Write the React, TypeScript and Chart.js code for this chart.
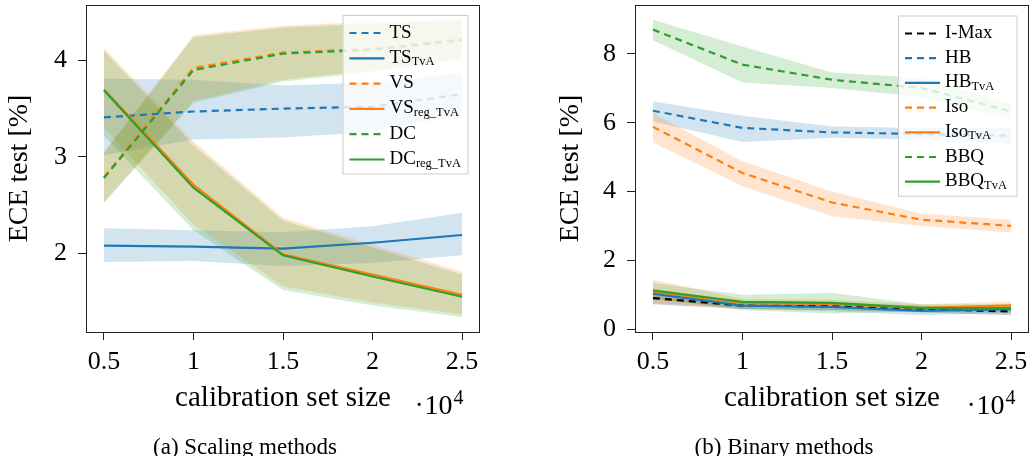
import React, { useEffect, useRef } from "react";
import { Chart, registerables } from "chart.js";

Chart.register(...registerables);

const FONT = '"Liberation Serif", "Times New Roman", serif';

// ---------- shared axis data ----------
const CAL_SIZES = [0.5, 1, 1.5, 2, 2.5];
const X_TICK_VALUES = [0.5, 1, 1.5, 2, 2.5];
const X_TICK_LABELS = ["0.5", "1", "1.5", "2", "2.5"];
const Y_TICKS_A = [2, 3, 4];
const Y_TICKS_B = [0, 2, 4, 6, 8];

// ---------- (a) Scaling methods ----------
const TS_MEAN = [3.41, 3.47, 3.5, 3.52, 3.65];
const TS_LO = [3.02, 3.18, 3.2, 3.26, 3.44];
const TS_HI = [3.81, 3.8, 3.74, 3.77, 3.87];

const TS_TVA_MEAN = [2.08, 2.07, 2.05, 2.11, 2.19];
const TS_TVA_LO = [1.91, 1.92, 1.87, 1.9, 1.98];
const TS_TVA_HI = [2.26, 2.24, 2.22, 2.28, 2.42];

const VS_MEAN = [2.79, 3.92, 4.08, 4.12, 4.22];
const VS_LO = [2.53, 3.58, 3.8, 3.9, 4.03];
const VS_HI = [3.05, 4.26, 4.36, 4.4, 4.43];

const VS_REG_TVA_MEAN = [3.7, 2.71, 1.99, 1.78, 1.57];
const VS_REG_TVA_LO = [3.3, 2.3, 1.66, 1.49, 1.37];
const VS_REG_TVA_HI = [4.13, 3.16, 2.37, 2.09, 1.81];

const DC_MEAN = [2.78, 3.9, 4.07, 4.11, 4.21];
const DC_LO = [2.52, 3.56, 3.78, 3.88, 4.01];
const DC_HI = [3.04, 4.24, 4.34, 4.38, 4.41];

const DC_REG_TVA_MEAN = [3.69, 2.68, 1.98, 1.76, 1.55];
const DC_REG_TVA_LO = [3.22, 2.24, 1.62, 1.46, 1.34];
const DC_REG_TVA_HI = [4.1, 3.12, 2.34, 2.06, 1.78];

// ---------- (b) Binary methods ----------
const IMAX_MEAN = [0.9, 0.68, 0.66, 0.58, 0.51];
const IMAX_LO = [0.72, 0.58, 0.55, 0.48, 0.4];
const IMAX_HI = [1.1, 0.8, 0.78, 0.68, 0.62];

const HB_MEAN = [6.35, 5.85, 5.72, 5.67, 5.62];
const HB_LO = [6.04, 5.44, 5.56, 5.51, 5.38];
const HB_HI = [6.62, 6.2, 5.89, 5.85, 5.85];

const HB_TVA_MEAN = [1.03, 0.68, 0.64, 0.53, 0.58];
const HB_TVA_LO = [0.88, 0.58, 0.52, 0.4, 0.47];
const HB_TVA_HI = [1.18, 0.78, 0.76, 0.66, 0.7];

const ISO_MEAN = [5.88, 4.54, 3.68, 3.18, 3.0];
const ISO_LO = [5.43, 4.15, 3.28, 3.0, 2.81];
const ISO_HI = [6.28, 4.88, 4.0, 3.35, 3.18];

const ISO_TVA_MEAN = [1.09, 0.76, 0.73, 0.61, 0.69];
const ISO_TVA_LO = [0.75, 0.64, 0.62, 0.52, 0.58];
const ISO_TVA_HI = [1.43, 0.88, 0.85, 0.72, 0.8];

const BBQ_MEAN = [8.71, 7.69, 7.25, 7.01, 6.33];
const BBQ_LO = [8.4, 7.17, 7.01, 6.75, 6.11];
const BBQ_HI = [9.0, 8.22, 7.46, 7.3, 6.55];

const BBQ_TVA_MEAN = [1.12, 0.79, 0.76, 0.61, 0.61];
const BBQ_TVA_LO = [0.9, 0.55, 0.45, 0.52, 0.5];
const BBQ_TVA_HI = [1.34, 1.0, 1.05, 0.72, 0.72];

// ---------- styles ----------
const BLUE = "#1f77b4";
const ORANGE = "#ff7f0e";
const GREEN = "#2ca02c";
const BLACK = "#000000";

type Part = { t: string; sub?: boolean };
type Series = {
  parts: Part[];
  mean: number[];
  lo: number[];
  hi: number[];
  color: string;
  dashed: boolean;
};

const SERIES_A: Series[] = [
  { parts: [{ t: "TS" }], mean: TS_MEAN, lo: TS_LO, hi: TS_HI, color: BLUE, dashed: true },
  { parts: [{ t: "TS" }, { t: "TvA", sub: true }], mean: TS_TVA_MEAN, lo: TS_TVA_LO, hi: TS_TVA_HI, color: BLUE, dashed: false },
  { parts: [{ t: "VS" }], mean: VS_MEAN, lo: VS_LO, hi: VS_HI, color: ORANGE, dashed: true },
  { parts: [{ t: "VS" }, { t: "reg_TvA", sub: true }], mean: VS_REG_TVA_MEAN, lo: VS_REG_TVA_LO, hi: VS_REG_TVA_HI, color: ORANGE, dashed: false },
  { parts: [{ t: "DC" }], mean: DC_MEAN, lo: DC_LO, hi: DC_HI, color: GREEN, dashed: true },
  { parts: [{ t: "DC" }, { t: "reg_TvA", sub: true }], mean: DC_REG_TVA_MEAN, lo: DC_REG_TVA_LO, hi: DC_REG_TVA_HI, color: GREEN, dashed: false },
];

const SERIES_B: Series[] = [
  { parts: [{ t: "I-Max" }], mean: IMAX_MEAN, lo: IMAX_LO, hi: IMAX_HI, color: BLACK, dashed: true },
  { parts: [{ t: "HB" }], mean: HB_MEAN, lo: HB_LO, hi: HB_HI, color: BLUE, dashed: true },
  { parts: [{ t: "HB" }, { t: "TvA", sub: true }], mean: HB_TVA_MEAN, lo: HB_TVA_LO, hi: HB_TVA_HI, color: BLUE, dashed: false },
  { parts: [{ t: "Iso" }], mean: ISO_MEAN, lo: ISO_LO, hi: ISO_HI, color: ORANGE, dashed: true },
  { parts: [{ t: "Iso" }, { t: "TvA", sub: true }], mean: ISO_TVA_MEAN, lo: ISO_TVA_LO, hi: ISO_TVA_HI, color: ORANGE, dashed: false },
  { parts: [{ t: "BBQ" }], mean: BBQ_MEAN, lo: BBQ_LO, hi: BBQ_HI, color: GREEN, dashed: true },
  { parts: [{ t: "BBQ" }, { t: "TvA", sub: true }], mean: BBQ_TVA_MEAN, lo: BBQ_TVA_LO, hi: BBQ_TVA_HI, color: GREEN, dashed: false },
];

function rgba(hex: string, a: number) {
  const n = parseInt(hex.slice(1), 16);
  return `rgba(${(n >> 16) & 255},${(n >> 8) & 255},${n & 255},${a})`;
}

const pts = (arr: number[]) => CAL_SIZES.map((x, j) => ({ x, y: arr[j] }));

const MAIN_FONT = `19px ${FONT}`;
const SUB_FONT = `12.5px ${FONT}`;

const figurePlugin = {
  id: "figureText",
  afterDraw(chart: any, _args: any, opts: any) {
    const ctx: CanvasRenderingContext2D = chart.ctx;
    const ca = chart.chartArea;
    ctx.save();
    // frame
    ctx.setLineDash([]);
    ctx.strokeStyle = "#222";
    ctx.lineWidth = 1;
    ctx.strokeRect(ca.left + 0.5, ca.top + 0.5, ca.right - ca.left - 1, ca.bottom - ca.top);

    // legend
    const items: Series[] = opts.series;
    const rowH: number = opts.rowH;
    const boxW: number = opts.boxW;
    const boxH = 32 + (items.length - 1) * rowH;
    const bx = ca.right - opts.rightInset - boxW;
    const by = ca.top + opts.topInset;
    ctx.fillStyle = "rgba(255,255,255,0.8)";
    ctx.fillRect(bx, by, boxW, boxH);
    ctx.strokeStyle = "#cccccc";
    ctx.lineWidth = 1;
    ctx.strokeRect(bx + 0.5, by + 0.5, boxW, boxH);
    items.forEach((s, i) => {
      const cy = by + 16 + i * rowH;
      ctx.beginPath();
      ctx.setLineDash(s.dashed ? [7, 5] : []);
      ctx.strokeStyle = s.color;
      ctx.lineWidth = 2.2;
      ctx.moveTo(bx + 7, cy + 2);
      ctx.lineTo(bx + 42, cy + 2);
      ctx.stroke();
      ctx.setLineDash([]);
      ctx.fillStyle = "#000";
      ctx.textBaseline = "alphabetic";
      ctx.textAlign = "left";
      let x = bx + 47;
      const base = cy + 6.5;
      for (const p of s.parts) {
        ctx.font = p.sub ? SUB_FONT : MAIN_FONT;
        ctx.fillText(p.t, x, p.sub ? base + 2.5 : base);
        x += ctx.measureText(p.t).width;
      }
    });

    // scale factor ·10^4
    ctx.fillStyle = "#000";
    ctx.textAlign = "left";
    ctx.textBaseline = "alphabetic";
    ctx.font = `28px ${FONT}`;
    const sx = opts.sciX;
    ctx.fillText("\u00b7", sx, 414);
    ctx.fillText("10", sx + 10, 414);
    const w10 = ctx.measureText("10").width;
    ctx.font = `20px ${FONT}`;
    ctx.fillText("4", sx + 10 + w10 + 1, 404);

    // caption
    ctx.font = `23px ${FONT}`;
    ctx.textAlign = "center";
    ctx.fillText(opts.caption, opts.captionX, 454);
    ctx.restore();
  },
};

type Panel = {
  series: Series[];
  yMin: number;
  yMax: number;
  yTicks: number[];
  yWidth: number;
  padRight: number;
  rowH: number;
  boxW: number;
  rightInset: number;
  topInset: number;
  sciX: number;
  caption: string;
  captionX: number;
};

function makeConfig(p: Panel): any {
  const datasets: any[] = [];
  p.series.forEach((s, i) => {
    datasets.push({
      data: pts(s.hi),
      borderWidth: 0,
      borderColor: "rgba(0,0,0,0)",
      pointRadius: 0,
      fill: "+1",
      backgroundColor: rgba(s.color, 0.2),
      order: 1000 - 2 * i,
    });
    datasets.push({
      data: pts(s.lo),
      borderWidth: 0,
      borderColor: "rgba(0,0,0,0)",
      pointRadius: 0,
      fill: false,
      order: 999 - 2 * i,
    });
  });
  p.series.forEach((s, i) => {
    datasets.push({
      data: pts(s.mean),
      borderColor: s.color,
      borderWidth: 2.2,
      borderDash: s.dashed ? [7, 5] : [],
      pointRadius: 0,
      fill: false,
      tension: 0,
      order: 100 - i,
    });
  });

  const zeroPad = (sc: any) => {
    sc.paddingLeft = 0;
    sc.paddingRight = 0;
    sc.paddingTop = 0;
    sc.paddingBottom = 0;
  };

  return {
    type: "line",
    data: { datasets },
    options: {
      responsive: false,
      animation: false,
      events: [],
      layout: { padding: { top: 5, right: p.padRight, bottom: 36, left: 0 } },
      plugins: {
        legend: { display: false },
        tooltip: { enabled: false },
        figureText: {
          series: p.series,
          rowH: p.rowH,
          boxW: p.boxW,
          rightInset: p.rightInset,
          topInset: p.topInset,
          sciX: p.sciX,
          caption: p.caption,
          captionX: p.captionX,
        },
      },
      scales: {
        x: {
          type: "linear",
          min: 0.4,
          max: 2.6,
          afterBuildTicks: (sc: any) => {
            sc.ticks = X_TICK_VALUES.map((v) => ({ value: v }));
          },
          afterFit: (sc: any) => {
            sc.height = 88;
            zeroPad(sc);
          },
          ticks: {
            callback: (_v: any, idx: number) => X_TICK_LABELS[idx],
            font: { family: FONT, size: 26 },
            color: "#000",
            padding: 7,
            maxRotation: 0,
            autoSkip: false,
          },
          grid: { drawOnChartArea: false, drawTicks: true, tickLength: 8, color: "#222", lineWidth: 1 },
          border: { display: false },
          title: {
            display: true,
            text: "calibration set size",
            font: { family: FONT, size: 29 },
            color: "#000",
            padding: { top: 0, bottom: 4 },
          },
        },
        y: {
          type: "linear",
          min: p.yMin,
          max: p.yMax,
          afterBuildTicks: (sc: any) => {
            sc.ticks = p.yTicks.map((v) => ({ value: v }));
          },
          afterFit: (sc: any) => {
            sc.width = p.yWidth;
            zeroPad(sc);
          },
          ticks: {
            callback: (v: any) => String(v),
            font: { family: FONT, size: 26 },
            color: "#000",
            padding: 11,
          },
          grid: { drawOnChartArea: false, drawTicks: true, tickLength: 8, color: "#222", lineWidth: 1 },
          border: { display: false },
          title: {
            display: true,
            text: "ECE test [%]",
            font: { family: FONT, size: 28 },
            color: "#000",
            padding: { top: 3, bottom: 0 },
          },
        },
      },
    },
    plugins: [figurePlugin],
  };
}

const PANEL_A: Panel = {
  series: SERIES_A,
  yMin: 1.185,
  yMax: 4.574,
  yTicks: Y_TICKS_A,
  yWidth: 86,
  padRight: 20,
  rowH: 25.3,
  boxW: 125,
  rightInset: 12.5,
  topInset: 10,
  sciX: 414.5,
  caption: "(a) Scaling methods",
  captionX: 245,
};

const PANEL_B: Panel = {
  series: SERIES_B,
  yMin: -0.087,
  yMax: 9.425,
  yTicks: Y_TICKS_B,
  yWidth: 84,
  padRight: 0,
  rowH: 24.7,
  boxW: 118.5,
  rightInset: 12.5,
  topInset: 10.5,
  sciX: 415.5,
  caption: "(b) Binary methods",
  captionX: 233,
};

function PanelCanvas({ panel, left, width }: { panel: Panel; left: number; width: number }) {
  const ref = useRef<HTMLCanvasElement>(null);
  useEffect(() => {
    const chart = new Chart(ref.current as HTMLCanvasElement, makeConfig(panel));
    return () => chart.destroy();
  }, [panel]);
  return (
    <canvas
      ref={ref}
      width={width}
      height={456}
      style={{ position: "absolute", left, top: 0, width, height: 456 }}
    />
  );
}

export default function App() {
  return (
    <div
      style={{
        position: "fixed",
        left: 0,
        top: 0,
        width: 1029,
        height: 456,
        overflow: "hidden",
        background: "#fff",
      }}
    >
      <PanelCanvas panel={PANEL_A} left={0} width={500} />
      <PanelCanvas panel={PANEL_B} left={551} width={478} />
    </div>
  );
}
